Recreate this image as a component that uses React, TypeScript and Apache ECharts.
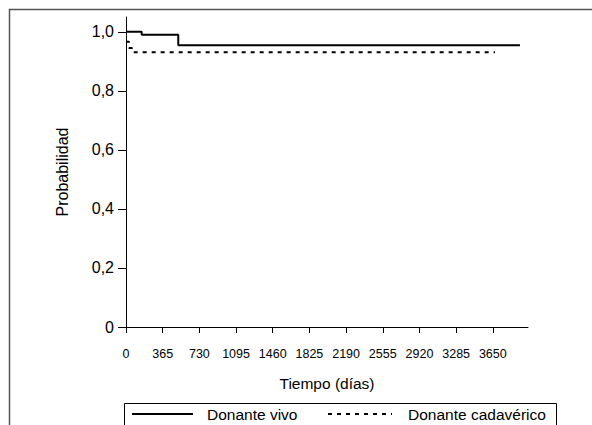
import React, { useEffect, useRef } from "react";
import * as echarts from "echarts";

const vivoDays = [0, 156, 520, 3920];
const vivoSurv = [1.0, 0.99, 0.954, 0.954];
const cadDays = [0, 30, 60, 3672];
const cadSurv = [0.966, 0.945, 0.931, 0.931];
const xTicks = [0, 365, 730, 1095, 1460, 1825, 2190, 2555, 2920, 3285, 3650];
const yTicks = [0, 0.2, 0.4, 0.6, 0.8, 1.0];
const legendNames = ["Donante vivo", "Donante cadavérico"];
const xName = "Tiempo (días)";
const yName = "Probabilidad";

const FONT = "Liberation Sans";

export default function App() {
  const ref = useRef<HTMLDivElement>(null);
  useEffect(() => {
    if (!ref.current) return;
    const chart = echarts.init(ref.current, undefined, { renderer: "svg" });
    const axisLine = { show: true, lineStyle: { color: "#000", width: 1 } };
    chart.setOption({
      animation: false,
      backgroundColor: "#fff",
      textStyle: { fontFamily: FONT },
      grid: { left: 126, top: 17, right: 64, bottom: 98, containLabel: false },
      xAxis: {
        type: "value",
        min: 0,
        max: 4000,
        interval: 365,
        axisLine,
        axisTick: { show: true, length: 6, lineStyle: { color: "#000" }, customValues: xTicks },
        axisLabel: {
          customValues: xTicks,
          fontSize: 12.5,
          color: "#000",
          margin: 20,
          fontFamily: FONT,
          formatter: (v: number) => String(v),
        },
        splitLine: { show: false },
        name: xName,
        nameLocation: "middle",
        nameGap: 48,
        nameTextStyle: { fontSize: 15.5, color: "#000", fontFamily: FONT },
      },
      yAxis: {
        type: "value",
        min: 0,
        max: 1.05,
        interval: 0.2,
        axisLine,
        axisTick: { show: true, length: 8, lineStyle: { color: "#000" }, customValues: yTicks },
        axisLabel: {
          customValues: yTicks,
          fontSize: 16,
          color: "#000",
          margin: 12,
          fontFamily: FONT,
          formatter: (v: number) => (v === 0 ? "0" : v.toFixed(1).replace(".", ",")),
        },
        splitLine: { show: false },
        name: yName,
        nameLocation: "middle",
        nameGap: 56,
        nameTextStyle: { fontSize: 16, color: "#000", fontFamily: FONT },
      },
      series: [
        {
          name: legendNames[0],
          type: "line",
          step: "end",
          symbol: "none",
          data: vivoDays.map((d, i) => [d, vivoSurv[i]]),
          lineStyle: { color: "#000", width: 2 },
        },
        {
          name: legendNames[1],
          type: "line",
          step: "end",
          symbol: "none",
          data: cadDays.map((d, i) => [d, cadSurv[i]]),
          lineStyle: { color: "#000", width: 2, type: [4, 5] },
        },
      ],
      graphic: [
        {
          type: "rect",
          shape: { x: 9.5, y: 9.5, width: 620, height: 500 },
          style: { fill: "none", stroke: "#555", lineWidth: 1.5 },
          silent: true,
        },
        {
          type: "rect",
          shape: { x: 124.5, y: 403.5, width: 432, height: 40 },
          style: { fill: "#fff", stroke: "#000", lineWidth: 1 },
          silent: true,
        },
        {
          type: "line",
          shape: { x1: 132, y1: 414, x2: 193, y2: 414 },
          style: { stroke: "#000", lineWidth: 2 },
        },
        {
          type: "text",
          x: 207,
          y: 414,
          style: { text: legendNames[0], fontSize: 15.5, fontFamily: FONT, fill: "#000", verticalAlign: "middle" },
        },
        {
          type: "line",
          shape: { x1: 328, y1: 414, x2: 392, y2: 414 },
          style: { stroke: "#000", lineWidth: 2, lineDash: [4, 5] },
        },
        {
          type: "text",
          x: 408,
          y: 414,
          style: { text: legendNames[1], fontSize: 15.5, fontFamily: FONT, fill: "#000", verticalAlign: "middle" },
        },
      ],
    });
    return () => chart.dispose();
  }, []);
  return (
    <div
      ref={ref}
      style={{ position: "fixed", left: 0, top: 0, width: 592, height: 425 }}
    />
  );
}
